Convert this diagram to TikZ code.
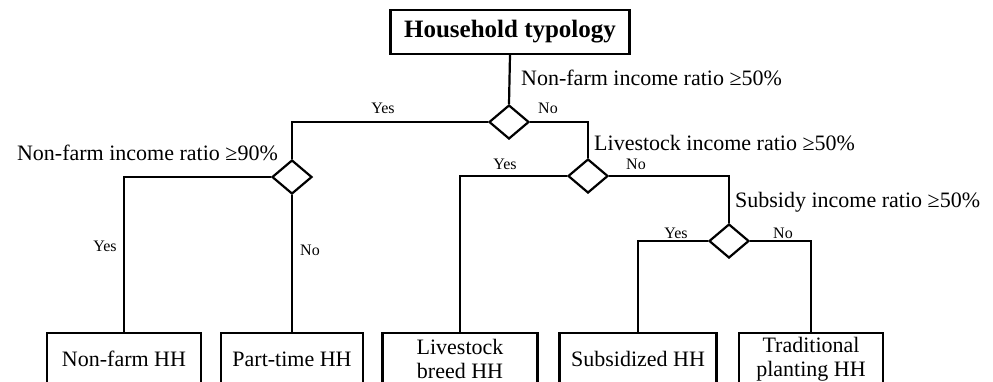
\documentclass[tikz,border=0pt]{standalone}
\usepackage{fontspec}
\setmainfont{Liberation Serif}
\usetikzlibrary{shapes.geometric}

\tikzset{
  hhbox/.style={draw, line width=2.2pt, minimum height=52pt, inner sep=0pt, align=center, font=\fontsize{22}{24}\selectfont},
  decide/.style={draw, diamond, line width=2.2pt, minimum width=40pt, minimum height=34pt, inner sep=0pt},
  cond/.style={font=\fontsize{22}{24}\selectfont, inner sep=0pt},
  yn/.style={font=\fontsize{16}{18}\selectfont, inner sep=0pt},
  link/.style={line width=2.2pt}
}

\begin{document}
\begin{tikzpicture}[x=1pt, y=-1pt]
    \useasboundingbox (0,0) rectangle (993,381);
    \clip (0,0) rectangle (993,381);
    \node[draw, line width=2.2pt, minimum width=239pt, minimum height=44pt, font=\fontsize{25}{28}\selectfont\bfseries] (title) at (510,32) {Household typology};
    \node[decide] (d1) at (509,122) {};
    \node[decide] (d2) at (292,177) {};
    \node[decide] (d3) at (588,176) {};
    \node[decide] (d4) at (729,241) {};
    \node[hhbox, minimum width=154pt] (nonfarm) at (124,359) {Non-farm HH};
    \node[hhbox, minimum width=142pt] (parttime) at (292,359) {Part-time HH};
    \node[hhbox, minimum width=155pt] (livestock) at (460,359) {Livestock\\breed HH};
    \node[hhbox, minimum width=157pt] (subsid) at (638,359) {Subsidized HH};
    \node[hhbox, minimum width=144pt] (trad) at (811,359) {Traditional\\planting HH};
    % questions
    \node[cond, anchor=west] (q1) at (521,78) {Non-farm income ratio ≥50\%};
    \node[cond, anchor=east] (q2) at (278,153) {Non-farm income ratio ≥90\%};
    \node[cond, anchor=west] (q3) at (594,143) {Livestock income ratio ≥50\%};
    \node[cond, anchor=west] (q4) at (735,202) {Subsidy income ratio ≥50\%};
    % branches
    \draw[link] (title.south) -- (d1.north);
    \draw[link] (d1.west) -| (d2.north);
    \draw[link] (d1.east) -| (d3.north);
    \draw[link] (d2.west) -| (nonfarm.north);
    \draw[link] (d2.south) -- (parttime.north);
    \draw[link] (d3.west) -| (livestock.north);
    \draw[link] (d3.east) -| (d4.north);
    \draw[link] (d4.west) -| (subsid.north);
    \draw[link] (d4.east) -| (trad.north);
    \node[yn] (y1) at (383,108) {Yes};
    \node[yn] (n1) at (548,108) {No};
    \node[yn] (y2) at (105,246) {Yes};
    \node[yn] (n2) at (310,250) {No};
    \node[yn] (y3) at (505,164) {Yes};
    \node[yn] (n3) at (636,164) {No};
    \node[yn] (y4) at (676,233) {Yes};
    \node[yn] (n4) at (783,233) {No};
\end{tikzpicture}
\end{document}
